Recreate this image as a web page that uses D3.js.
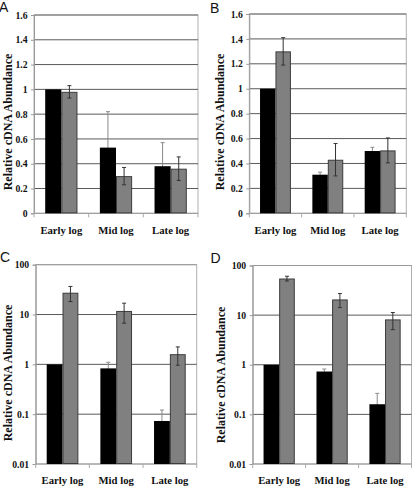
<!DOCTYPE html>
<html>
<head>
<meta charset="utf-8">
<script src="https://cdn.jsdelivr.net/npm/d3@7"></script>
<style>
  html, body { margin: 0; padding: 0; background: #fff; }
  svg { display: block; }
</style>
</head>
<body>
<svg id="chart" width="416" height="486"></svg>
<script>
// ---- Data ----
const categories = ["Early log", "Mid log", "Late log"];

const linearTicks = [0, 0.2, 0.4, 0.6, 0.8, 1, 1.2, 1.4, 1.6];
const linearTickLabels = ["0", "0.2", "0.4", "0.6", "0.8", "1", "1.2", "1.4", "1.6"];
const logTicks = [0.01, 0.1, 1, 10, 100];
const logTickLabels = ["0.01", "0.1", "1", "10", "100"];

const aBlack = [1.00, 0.53, 0.38];
const aBlackErr = [0, 0.29, 0.19];
const aGray = [0.98, 0.30, 0.36];
const aGrayErr = [0.05, 0.07, 0.095];

const bBlack = [1.00, 0.31, 0.50];
const bBlackErr = [0, 0.02, 0.03];
const bGray = [1.30, 0.43, 0.505];
const bGrayErr = [0.11, 0.13, 0.10];

const cBlack = [1.00, 0.83, 0.073];
const cBlackErr = [0, 0.27, 0.048];
const cGray = [27.4, 11.8, 1.6];
const cGrayErr = [9.2, 5.1, 0.64];

const dBlack = [1.00, 0.73, 0.16];
const dBlackErr = [0, 0.09, 0.105];
const dGray = [54.7, 20.7, 8.2];
const dGrayErr = [6.0, 6.5, 3.1];

const yTitle = "Relative cDNA Abundance";

// ---- Layout ----
const panels = [
  { letter: "A", lx: -1, ly: 12, type: "linear", left: 34, right: 198, top: 15, bottom: 213.3,
    titleX: 8, titleY: 122, catY: 230, black: aBlack, blackErr: aBlackErr, gray: aGray, grayErr: aGrayErr },
  { letter: "B", lx: 210, ly: 12.5, type: "linear", left: 249.3, right: 406.3, top: 14, bottom: 213.3,
    titleX: 220, titleY: 122, catY: 230, black: bBlack, blackErr: bBlackErr, gray: bGray, grayErr: bGrayErr },
  { letter: "C", lx: 0, ly: 262, type: "log", left: 35.7, right: 196.7, top: 264.7, bottom: 464,
    titleX: 8, titleY: 373, catY: 480, black: cBlack, blackErr: cBlackErr, gray: cGray, grayErr: cGrayErr },
  { letter: "D", lx: 210.5, ly: 263, type: "log", left: 252.7, right: 411.5, top: 265.5, bottom: 464,
    titleX: 221, titleY: 375, catY: 480, black: dBlack, blackErr: dBlackErr, gray: dGray, grayErr: dGrayErr }
];

const svg = d3.select("#chart");
const serif = "'Liberation Serif', 'Times New Roman', serif";
const sans = "'Liberation Sans', Arial, sans-serif";

panels.forEach(p => {
  const g = svg.append("g");
  const isLog = p.type === "log";
  const y = isLog
    ? d3.scaleLog().domain([0.01, 100]).range([p.bottom, p.top])
    : d3.scaleLinear().domain([0, 1.6]).range([p.bottom, p.top]);
  const ticks = isLog ? logTicks : linearTicks;
  const tickLabels = isLog ? logTickLabels : linearTickLabels;
  const x = d3.scaleBand().domain(categories).range([p.left, p.right]).padding(0);
  const bw = x.bandwidth() * 0.295;
  const base = isLog ? 0.01 : 0;

  // frame
  g.append("rect")
    .attr("x", p.left).attr("y", p.top)
    .attr("width", p.right - p.left).attr("height", p.bottom - p.top)
    .attr("fill", "none").attr("stroke", "#b0b0b0").attr("stroke-width", 1);

  // gridlines
  g.selectAll(".grid").data(ticks.filter(t => t !== ticks[0] && t !== ticks[ticks.length - 1]))
    .enter().append("line")
    .attr("x1", p.left).attr("x2", p.right)
    .attr("y1", d => y(d)).attr("y2", d => y(d))
    .attr("stroke", "#5a5a5a").attr("stroke-width", 1);
  // top gridline (top border)
  g.append("line")
    .attr("x1", p.left).attr("x2", p.right)
    .attr("y1", y(ticks[ticks.length - 1])).attr("y2", y(ticks[ticks.length - 1]))
    .attr("stroke", isLog ? "#999" : "#6a6a6a").attr("stroke-width", 1);

  // y axis
  const yAxis = d3.axisLeft(y).tickValues(ticks).tickSize(3).tickPadding(3.5)
    .tickFormat((d, i) => tickLabels[i]);
  const ya = g.append("g").attr("transform", `translate(${p.left},0)`).call(yAxis);
  ya.select(".domain").attr("stroke", "#999");
  ya.selectAll(".tick line").attr("stroke", "#999");
  ya.selectAll(".tick text")
    .attr("font-family", serif).attr("font-weight", "bold").attr("font-size", "9.7px")
    .attr("fill", "#111");

  // x axis line + boundary ticks
  g.append("line").attr("x1", p.left).attr("x2", p.right)
    .attr("y1", p.bottom).attr("y2", p.bottom).attr("stroke", "#999");
  const bounds = categories.map(c => x(c)).concat([p.right]);
  g.selectAll(".xt").data(bounds).enter().append("line")
    .attr("x1", d => d).attr("x2", d => d)
    .attr("y1", p.bottom).attr("y2", p.bottom + 4)
    .attr("stroke", "#aaa");

  // category labels
  g.selectAll(".cat").data(categories).enter().append("text")
    .attr("x", d => x(d) + x.bandwidth() / 2)
    .attr("y", p.catY)
    .attr("dy", "0.35em")
    .attr("text-anchor", "middle")
    .attr("font-family", serif).attr("font-weight", "bold").attr("font-size", "10.7px")
    .attr("fill", "#111")
    .text(d => d);

  const cx = c => x(c) + x.bandwidth() / 2;

  // error bars for black bars (behind bars)
  const errG = (vals, errs, xoff, color, parent) => {
    categories.forEach((c, i) => {
      if (!errs[i]) return;
      const xc = cx(c) + xoff;
      const lo = Math.max(vals[i] - errs[i], isLog ? 0.011 : 0);
      const hi = vals[i] + errs[i];
      parent.append("line").attr("x1", xc).attr("x2", xc)
        .attr("y1", y(hi)).attr("y2", y(lo)).attr("stroke", color).attr("stroke-width", 1);
      [hi, lo].forEach(v => {
        parent.append("line").attr("x1", xc - 2).attr("x2", xc + 2)
          .attr("y1", y(v)).attr("y2", y(v)).attr("stroke", color).attr("stroke-width", 1);
      });
    });
  };
  errG(p.black, p.blackErr, -bw / 2, "#8a8a8a", g);

  // black bars
  g.selectAll(".bb").data(categories).enter().append("rect")
    .attr("x", d => cx(d) - bw)
    .attr("y", (d, i) => y(p.black[i]))
    .attr("width", bw)
    .attr("height", (d, i) => y(base) - y(p.black[i]))
    .attr("fill", "#000");

  // gray bars
  g.selectAll(".gb").data(categories).enter().append("rect")
    .attr("x", d => cx(d) + 0.5)
    .attr("y", (d, i) => y(p.gray[i]) + 0.5)
    .attr("width", bw - 1)
    .attr("height", (d, i) => y(base) - y(p.gray[i]) - 1)
    .attr("fill", "#808080")
    .attr("stroke", "#3c3c3c").attr("stroke-width", 1);

  errG(p.gray, p.grayErr, bw / 2, "#333", g);

  // y title
  g.append("text")
    .attr("transform", `translate(${p.titleX},${p.titleY}) rotate(-90)`)
    .attr("text-anchor", "middle").attr("dy", "0.35em")
    .attr("font-family", serif).attr("font-weight", "bold").attr("font-size", "12px")
    .attr("fill", "#111")
    .text(yTitle);

  // panel letter
  g.append("text")
    .attr("x", p.lx).attr("y", p.ly)
    .attr("font-family", sans).attr("font-size", "14px")
    .attr("fill", "#111")
    .text(p.letter);
});
</script>
</body>
</html>
